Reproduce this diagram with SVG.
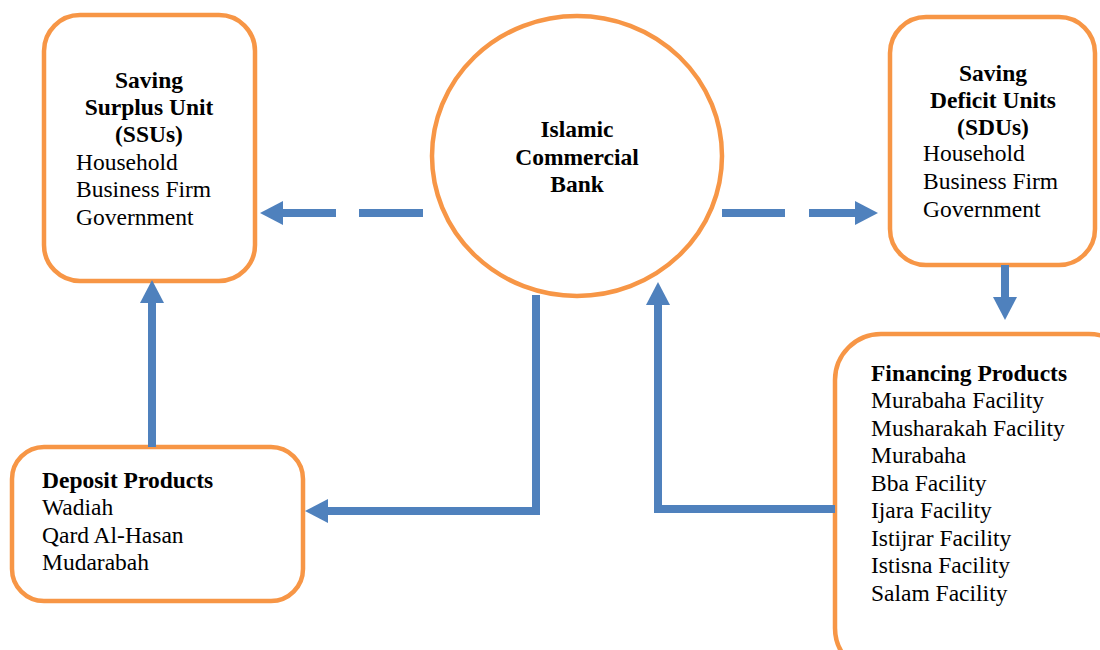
<svg xmlns="http://www.w3.org/2000/svg" width="1100" height="650" viewBox="0 0 1100 650">
<style>
.box{fill:#fff;stroke:#F79646;stroke-width:4.5}
.t{font-family:"Liberation Serif","Times New Roman",serif;font-size:23.5px;fill:#000}
.b{font-weight:bold}
.c{text-anchor:middle}
.ln{stroke:#4F81BD;stroke-width:8;fill:none}
</style>
<defs>
<marker id="ah" markerUnits="userSpaceOnUse" viewBox="0 0 23 24" markerWidth="23" markerHeight="24" refX="0" refY="12" orient="auto">
<path d="M0,0 L23,12 L0,24 z" fill="#4F81BD"/>
</marker>
</defs>
<rect width="1100" height="650" fill="#fff"/>
<g id="ssu">
<rect class="box" x="44" y="15" width="211" height="266" rx="36"/>
<text class="t b c" x="149" y="88">Saving</text>
<text class="t b c" x="149" y="115">Surplus Unit</text>
<text class="t b c" x="149" y="142">(SSUs)</text>
<text class="t" x="76" y="170">Household</text>
<text class="t" x="76" y="197">Business Firm</text>
<text class="t" x="76" y="225">Government</text>
</g>
<g id="bank">
<ellipse class="box" cx="577" cy="156" rx="145" ry="140"/>
<text class="t b c" x="577" y="137">Islamic</text>
<text class="t b c" x="577" y="165">Commercial</text>
<text class="t b c" x="577" y="192">Bank</text>
</g>
<g id="sdu">
<rect class="box" x="890" y="17" width="205" height="248" rx="36"/>
<text class="t b c" x="993" y="81">Saving</text>
<text class="t b c" x="993" y="108">Deficit Units</text>
<text class="t b c" x="993" y="135">(SDUs)</text>
<text class="t" x="923" y="161">Household</text>
<text class="t" x="923" y="189">Business Firm</text>
<text class="t" x="923" y="217">Government</text>
</g>
<g id="deposit">
<rect class="box" x="12" y="447" width="291" height="154" rx="32"/>
<text class="t b" x="42" y="488">Deposit Products</text>
<text class="t" x="42" y="515">Wadiah</text>
<text class="t" x="42" y="543">Qard Al-Hasan</text>
<text class="t" x="42" y="570">Mudarabah</text>
</g>
<g id="financing">
<rect class="box" x="835" y="334" width="300" height="340" rx="46"/>
<text class="t b" x="871" y="381">Financing Products</text>
<text class="t" x="871" y="408">Murabaha Facility</text>
<text class="t" x="871" y="436">Musharakah Facility</text>
<text class="t" x="871" y="463">Murabaha</text>
<text class="t" x="871" y="491">Bba Facility</text>
<text class="t" x="871" y="518">Ijara Facility</text>
<text class="t" x="871" y="546">Istijrar Facility</text>
<text class="t" x="871" y="573">Istisna Facility</text>
<text class="t" x="871" y="601">Salam Facility</text>
</g>
<g id="connectors">
<line class="ln" x1="423" y1="213" x2="359" y2="213"/>
<line class="ln" x1="336" y1="213" x2="283" y2="213" marker-end="url(#ah)"/>
<line class="ln" x1="722" y1="213" x2="785" y2="213"/>
<line class="ln" x1="809" y1="213" x2="855" y2="213" marker-end="url(#ah)"/>
<line class="ln" x1="1005" y1="265" x2="1005" y2="297" marker-end="url(#ah)"/>
<line class="ln" x1="152" y1="447" x2="152" y2="303" marker-end="url(#ah)"/>
<polyline class="ln" points="536,295 536,511 328,511" marker-end="url(#ah)"/>
<polyline class="ln" points="835,509 658,509 658,305" marker-end="url(#ah)"/>
</g>
</svg>
